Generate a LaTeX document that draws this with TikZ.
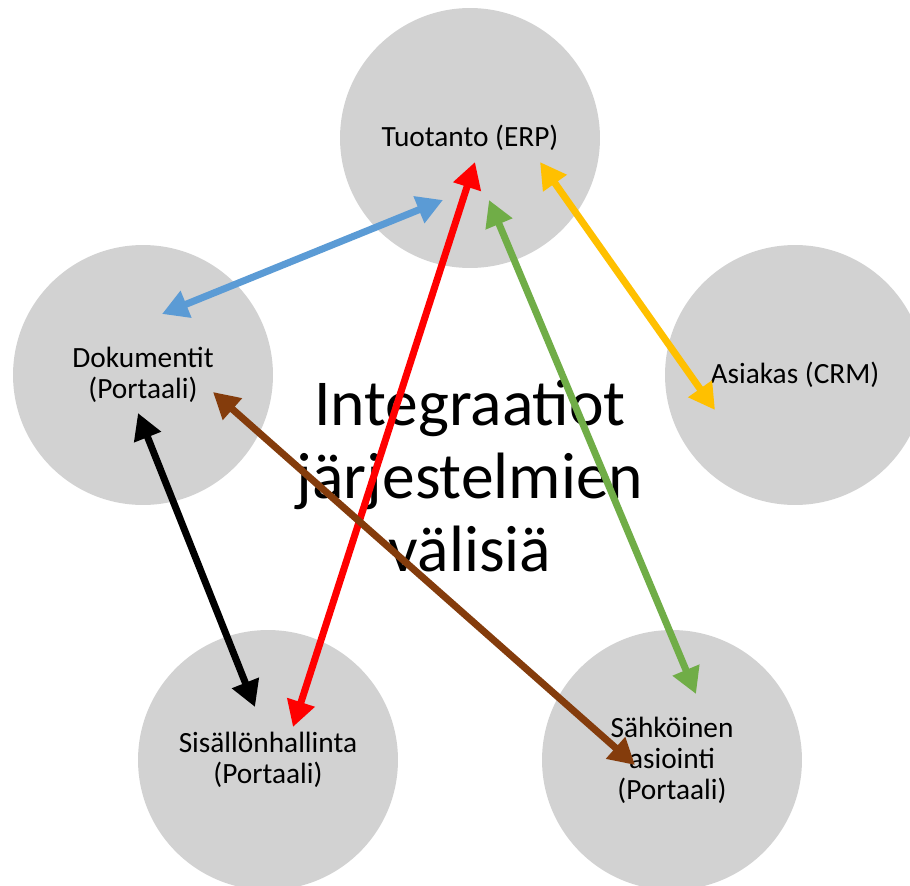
\documentclass[tikz,border=0pt]{standalone}
\usepackage{fontspec}
\setmainfont{Carlito}
\usetikzlibrary{arrows.meta}
\definecolor{circlegray}{HTML}{D2D2D2}
\definecolor{linkblue}{HTML}{5B9BD5}
\definecolor{linkred}{HTML}{FF0000}
\definecolor{linkgreen}{HTML}{70AD47}
\definecolor{linkyellow}{HTML}{FFC000}
\definecolor{linkbrown}{HTML}{843C0C}

\begin{document}
\begin{tikzpicture}[x=0.02cm, y=-0.02cm,
  system/.style={circle, fill=circlegray, minimum size=5.2cm, inner sep=0pt,
    align=center, font=\fontsize{16.7}{17.6}\selectfont},
  link/.style={line width=0.14cm,
    {Triangle[length=0.52cm,width=0.55cm]}-{Triangle[length=0.52cm,width=0.55cm]}}]
\useasboundingbox (0,0) rectangle (910,886);

% Systems
\node[system] (erp) at (470,138) {Tuotanto (ERP)};
\node[system] (dok) at (143,375) {Dokumentit\\(Portaali)};
\node[system] (crm) at (795,375) {Asiakas (CRM)};
\node[system] (sis) at (268,760) {Sisällönhallinta\\(Portaali)};
\node[system] (sah) at (672,760) {Sähköinen\\asiointi\\(Portaali)};

% Title
\node[align=center, font=\fontsize{37.3}{41.4}\selectfont] (title) at (470,476)
  {Integraatiot\\järjestelmien\\välisiä};

% Integrations
\draw[link, linkblue] ([shift={(-27,62)}]erp.center) -- ([shift={(19,-61)}]dok.center);
\draw[link, linkred] ([shift={(5,24)}]erp.center) -- ([shift={(25,-33)}]sis.center);
\draw[link, linkgreen] ([shift={(19,62)}]erp.center) -- ([shift={(24,-66)}]sah.center);
\draw[link, linkyellow] ([shift={(70,24)}]erp.center) -- ([shift={(-80,35)}]crm.center);
\draw[link, black] ([shift={(-5,38)}]dok.center) -- ([shift={(-13,-53)}]sis.center);
\draw[link, linkbrown] ([shift={(70,17)}]dok.center) -- ([shift={(-37,5)}]sah.center);
\end{tikzpicture}
\end{document}
